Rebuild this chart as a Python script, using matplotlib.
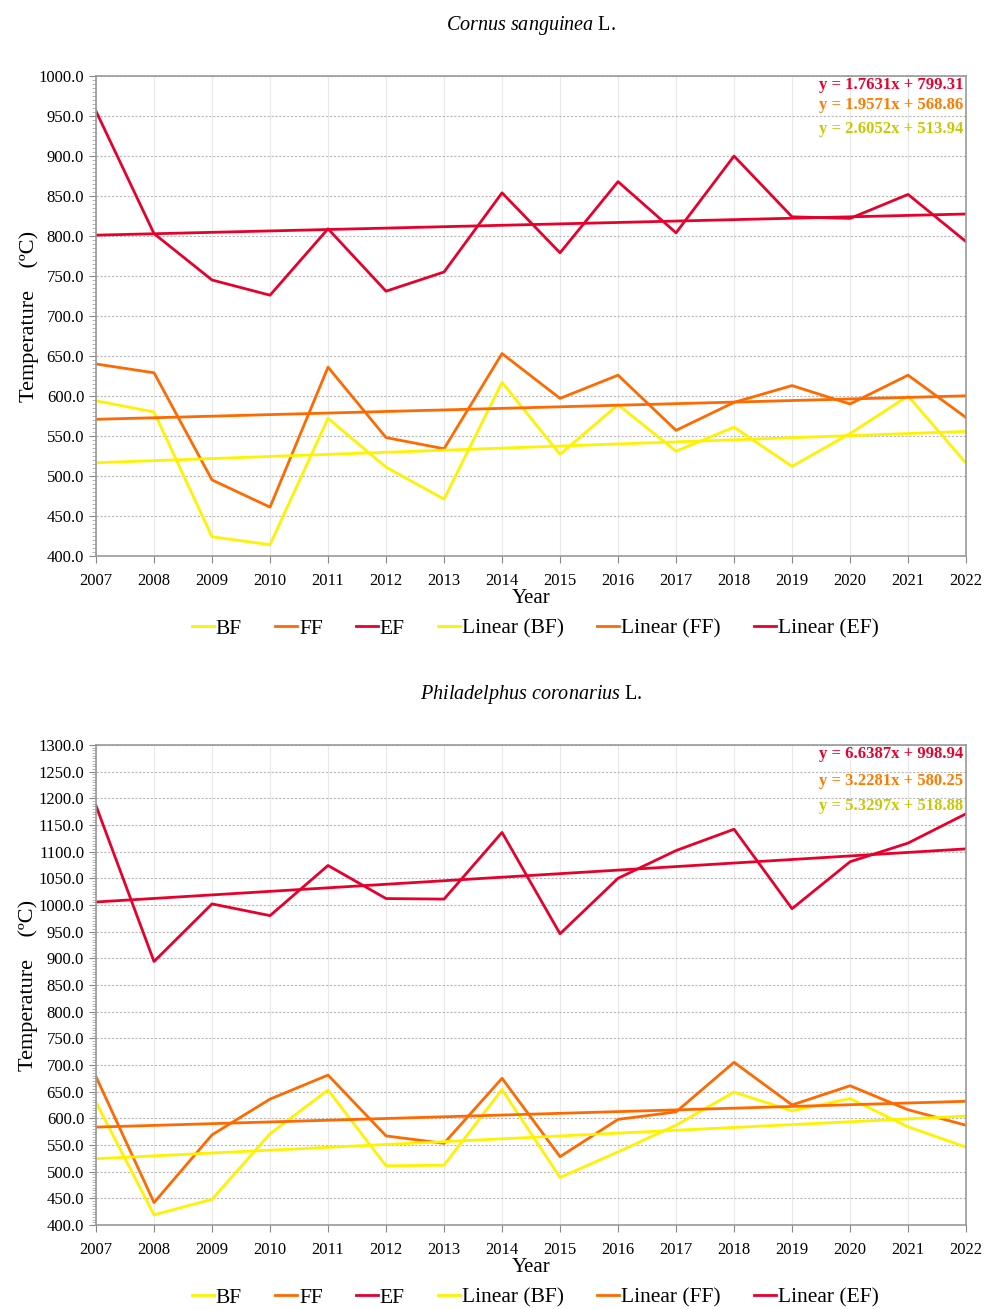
import matplotlib
matplotlib.use("Agg")
import matplotlib.pyplot as plt
import numpy as np
from matplotlib.ticker import MultipleLocator, FormatStrFormatter

plt.rcParams['font.family'] = ['Liberation Serif', 'DejaVu Serif']
plt.rcParams['mathtext.fontset'] = 'custom'
plt.rcParams['mathtext.it'] = 'Liberation Serif:italic'
plt.rcParams['mathtext.rm'] = 'Liberation Serif'

years = list(range(2007, 2023))

# Cornus sanguinea L.
cornus_bf = [594, 580, 424, 414, 572, 511, 471, 617, 527, 589, 531, 561, 512, 553, 600, 516]
cornus_ff = [640, 629, 495, 461, 636, 548, 534, 653, 597, 626, 557, 592, 613, 590, 626, 573]
cornus_ef = [956, 803, 745, 726, 809, 731, 755, 854, 779, 868, 804, 900, 824, 822, 852, 793]
cornus_slopes = [2.6052, 1.9571, 1.7631]      # BF, FF, EF
cornus_intercepts = [513.94, 568.86, 799.31]

# Philadelphus coronarius L.
phil_bf = [630, 419, 448, 571, 653, 511, 512, 654, 489, 537, 587, 649, 614, 637, 584, 546]
phil_ff = [678, 442, 569, 636, 681, 567, 553, 675, 528, 598, 612, 705, 625, 661, 616, 587]
phil_ef = [1186, 894, 1002, 980, 1074, 1012, 1011, 1136, 946, 1050, 1102, 1142, 993, 1081, 1116, 1171]
phil_slopes = [5.3297, 3.2281, 6.6387]
phil_intercepts = [518.88, 580.25, 998.94]

series_names = ['BF', 'FF', 'EF']
colors = ['#FFF200', '#FF6A00', '#E8002D']
eq_colors = ['#C8C800', '#FF7A00', '#E8002D']

fig = plt.figure(figsize=(9.95, 13.09), dpi=100)

def panel(rect, bf, ff, ef, slopes, intercepts, ylim, title_it, eq_y):
    ax = fig.add_axes(rect)
    data = [bf, ff, ef]
    handles = []
    for d, c, n in zip(data, colors, series_names):
        h, = ax.plot(years, d, color=c, lw=2.0, label=n)
        handles.append(h)
    xi = np.arange(1, len(years) + 1)
    for s, b, c, n in zip(slopes, intercepts, colors, series_names):
        h, = ax.plot(years, s * xi + b, color=c, lw=2.0, label=f'Linear ({n})')
        handles.append(h)
    ax.set_xlim(years[0], years[-1])
    ax.set_ylim(*ylim)
    ax.set_xticks(years)
    ax.yaxis.set_major_locator(MultipleLocator(50))
    ax.yaxis.set_minor_locator(MultipleLocator(5))
    ax.yaxis.set_major_formatter(FormatStrFormatter('%.1f'))
    ax.tick_params(axis='both', labelsize=12, colors='#888888', labelcolor='black')
    ax.tick_params(axis='y', which='major', length=5)
    ax.tick_params(axis='y', which='minor', length=3, color='#aaaaaa')
    ax.tick_params(axis='x', length=5, pad=7)
    ax.grid(axis='y', which='major', linestyle=(0, (2, 1.5)), color='#b8b8b8', lw=0.8)
    ax.grid(axis='x', which='major', linestyle='-', color='#e8e8e8', lw=0.8)
    ax.set_axisbelow(True)
    for sp in ax.spines.values():
        sp.set_color('#999999')
        sp.set_linewidth(1.2)
    ax.set_xlabel('Year', fontsize=15, labelpad=0)
    ax.set_ylabel('Temperature    (ºC)', fontsize=16, labelpad=0)
    ax.set_title(title_it, fontsize=14.5, pad=33)
    order = [2, 1, 0]
    for k, yy in zip(order, eq_y):
        ax.text(0.9965, yy, f'y = {slopes[k]:.4f}x + {intercepts[k]:.2f}',
                transform=ax.transAxes, ha='right', va='center',
                color=eq_colors[k], fontsize=12, fontweight='bold')
    ax.legend(handles=handles, loc='upper center', bbox_to_anchor=(0.505, -0.108),
              ncol=6, frameon=False, fontsize=15.5, handlelength=1.0,
              handletextpad=0.1, columnspacing=1.55, borderpad=0)
    return ax

panel([0.0965, 0.5753, 0.8744, 0.3666], cornus_bf, cornus_ff, cornus_ef,
      cornus_slopes, cornus_intercepts, (400, 1000),
      r'$\it{Cornus\ sanguinea}$ L.', [0.981, 0.94, 0.89])
panel([0.0965, 0.0642, 0.8744, 0.3667], phil_bf, phil_ff, phil_ef,
      phil_slopes, phil_intercepts, (400, 1300),
      r'$\it{Philadelphus\ coronarius}$ L.', [0.981, 0.925, 0.872])

fig.savefig('out.png', dpi=100)
